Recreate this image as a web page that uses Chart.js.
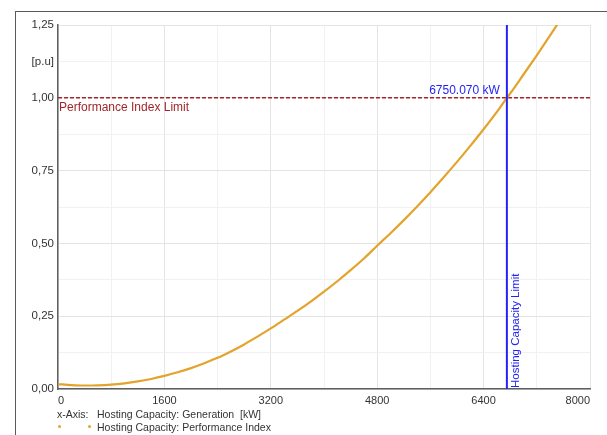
<!DOCTYPE html>
<html>
<head>
<meta charset="utf-8">
<script src="https://cdn.jsdelivr.net/npm/chart.js@4/dist/chart.umd.min.js"></script>
<style>
  html, body { margin: 0; padding: 0; background: #fff; }
  #wrap { position: relative; width: 607px; height: 435px; overflow: hidden;
          font-family: "Liberation Sans", Arial, sans-serif; }
  #frame { position: absolute; left: 15px; top: 11px; width: 700px; height: 500px;
           border-left: 1.5px solid #5a5a5a; border-top: 1.5px solid #5a5a5a; }
  canvas { position: absolute; left: 0; top: 0; }
  .txt { position: absolute; font-size: 10.5px; color: #333; white-space: pre; line-height: 12px; }
  .dot { position: absolute; width: 3px; height: 3px; border-radius: 1.5px; background: #e3a32c; }
</style>
</head>
<body>
<div id="wrap">
  <div id="frame"></div>
  <canvas id="c" width="607" height="435"></canvas>
  <div class="txt" style="left:57px; top:408px;">x-Axis:</div>
  <div class="txt" style="left:97px; top:408px;">Hosting Capacity: Generation  [kW]</div>
  <div class="dot" style="left:58px; top:425px;"></div>
  <div class="dot" style="left:88px; top:425px;"></div>
  <div class="txt" style="left:97px; top:421px;">Hosting Capacity: Performance Index</div>
</div>
<script>
// Generation in kW and the resulting performance index in p.u.
const generationKW = [0, 200, 400, 600, 800, 1000, 1200, 1400, 1600, 1800, 2000, 2200, 2400,
  2600, 2800, 3000, 3200, 3400, 3600, 3800, 4000, 4200, 4400, 4600, 4800, 5000, 5200, 5400,
  5600, 5800, 6000, 6200, 6400, 6600, 6750.07, 6800, 7000, 7200, 7400, 7600];
const performanceIndex = [0.017, 0.0136, 0.012, 0.0126, 0.015, 0.0195, 0.026, 0.0345, 0.045,
  0.0574, 0.0718, 0.0885, 0.107, 0.129, 0.153, 0.180, 0.208, 0.238, 0.268, 0.300, 0.334,
  0.370, 0.408, 0.448, 0.492, 0.535, 0.580, 0.627, 0.676, 0.727, 0.780, 0.835, 0.892,
  0.952, 1.000, 1.015, 1.080, 1.146, 1.214, 1.284];

// Limits
const performanceLimit = 1.0;          // p.u.
const hostingCapacityLimitKW = 6750.07; // kW

// Axis ranges and tick steps
const xRange = [0, 8000];
const yRange = [0, 1.25];
const xLabelStep = 1600;
const xGridStep = 800;
const yLabelStep = 0.25;
const yGridStep = 0.125;
const yUnitLabel = '[p.u]';
const yUnitTick = 1.125;

const curveColor = '#e3a32c';
const limitRed = '#a0272c';
const limitBlue = '#2323f5';
const fontFamily = '"Liberation Sans", Arial, sans-serif';

const near = (a, b) => Math.abs(a - b) < 1e-6;
const isMultiple = (v, step) => near(v / step, Math.round(v / step));

const annotations = {
  id: 'limitLabels',
  afterDatasetsDraw(chart) {
    const { ctx, scales: { x, y } } = chart;
    const yLim = y.getPixelForValue(performanceLimit);
    const xLim = x.getPixelForValue(hostingCapacityLimitKW);
    ctx.save();
    ctx.font = '12px ' + fontFamily;
    ctx.fillStyle = limitRed;
    ctx.textAlign = 'left';
    ctx.textBaseline = 'top';
    ctx.fillText('Performance Index Limit', chart.chartArea.left + 1, yLim + 4);

    ctx.fillStyle = limitBlue;
    ctx.textAlign = 'right';
    ctx.textBaseline = 'bottom';
    ctx.fillText(hostingCapacityLimitKW.toFixed(3) + ' kW', xLim - 7, yLim - 1);

    ctx.translate(xLim + 3, chart.chartArea.bottom - 1);
    ctx.rotate(-Math.PI / 2);
    ctx.font = '11.5px ' + fontFamily;
    ctx.textAlign = 'left';
    ctx.textBaseline = 'top';
    ctx.fillText('Hosting Capacity Limit', 0, 0);
    ctx.restore();
  }
};

new Chart(document.getElementById('c'), {
  type: 'line',
  data: {
    datasets: [
      {
        label: 'Hosting Capacity: Performance Index',
        data: generationKW.map((g, i) => ({ x: g, y: performanceIndex[i] })),
        borderColor: curveColor,
        borderWidth: 2.2,
        pointRadius: 0,
        cubicInterpolationMode: 'monotone',
        order: 1
      },
      {
        label: 'Performance Index Limit',
        data: [{ x: xRange[0], y: performanceLimit }, { x: xRange[1], y: performanceLimit }],
        borderColor: limitRed,
        borderWidth: 1.5,
        borderDash: [4, 2],
        pointRadius: 0,
        order: 2
      },
      {
        label: 'Hosting Capacity Limit',
        data: [{ x: hostingCapacityLimitKW, y: yRange[0] }, { x: hostingCapacityLimitKW, y: yRange[1] }],
        borderColor: limitBlue,
        borderWidth: 2,
        pointRadius: 0,
        order: 0
      }
    ]
  },
  options: {
    responsive: false,
    animation: false,
    devicePixelRatio: 1,
    layout: { padding: { left: 0, top: 25, right: 17, bottom: 0 } },
    plugins: { legend: { display: false }, tooltip: { enabled: false } },
    scales: {
      x: {
        type: 'linear',
        min: xRange[0],
        max: xRange[1],
        afterFit(scale) { scale.height = 46; },
        border: { color: '#606060', width: 1.5 },
        grid: {
          drawTicks: false,
          color: c => isMultiple(c.tick.value, xLabelStep) ? '#e4e4e4' : '#f1f1f1',
          lineWidth: 1
        },
        ticks: {
          stepSize: xGridStep,
          autoSkip: false,
          maxRotation: 0,
          align: 'inner',
          padding: 5,
          color: '#333',
          font: { family: fontFamily, size: 11 },
          callback: v => isMultiple(v, xLabelStep) ? String(v) : ''
        }
      },
      y: {
        type: 'linear',
        min: yRange[0],
        max: yRange[1],
        afterFit(scale) { scale.width = 58; },
        border: { color: '#606060', width: 1.5 },
        grid: {
          drawTicks: false,
          color: c => isMultiple(c.tick.value, yLabelStep) ? '#e4e4e4' : '#f1f1f1',
          lineWidth: 1
        },
        ticks: {
          stepSize: yGridStep,
          autoSkip: false,
          padding: 4,
          color: '#333',
          font: { family: fontFamily, size: 11.5 },
          callback: v => near(v, yUnitTick) ? yUnitLabel
            : (isMultiple(v, yLabelStep) ? v.toFixed(2).replace('.', ',') : '')
        }
      }
    }
  },
  plugins: [annotations]
});
</script>
</body>
</html>
